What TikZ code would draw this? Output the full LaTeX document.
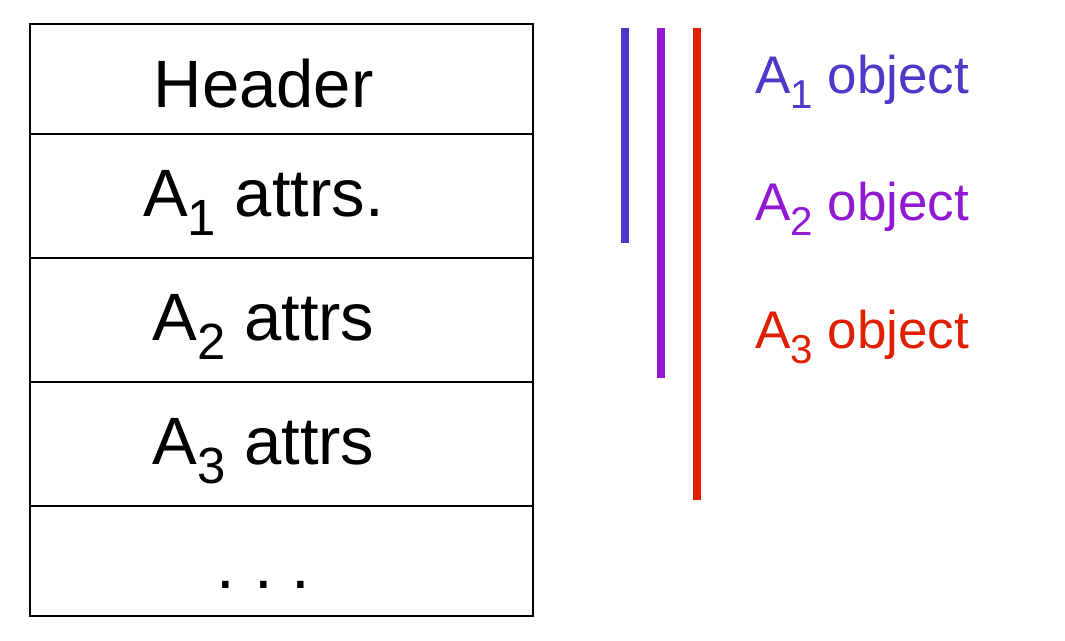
\documentclass[tikz,border=0pt]{standalone}
\usepackage{fontspec}
\setmainfont{Liberation Sans}
\usetikzlibrary{positioning}
\definecolor{objone}{RGB}{80,55,200}
\definecolor{objtwo}{RGB}{145,25,210}
\definecolor{objthree}{RGB}{224,30,0}
\newcommand{\lowidx}[1]{\raisebox{-0.29em}{\scalebox{0.76}{#1}}}
\begin{document}
\begin{tikzpicture}[x=1pt, y=-1pt,
  cell/.style={draw, line width=2pt, minimum width=503pt, inner sep=0pt, outer sep=0pt,
    text depth=0pt, font=\fontsize{67}{70}\selectfont, execute at end node={\hspace*{36pt}}},
  bar/.style={line width=8.5pt},
  objlabel/.style={anchor=base west, inner sep=0pt, font=\fontsize{53}{56}\selectfont}]
  \useasboundingbox (0,0) rectangle (1065,640);
  \node[cell, minimum height=110pt, text height=56pt] (hdr) at (281.5,79) {Header};
  \node[cell, minimum height=124pt, text height=40pt, below=0pt of hdr] (aone) {A\lowidx{1} attrs.};
  \node[cell, minimum height=124pt, text height=40pt, below=0pt of aone] (atwo) {A\lowidx{2} attrs};
  \node[cell, minimum height=124pt, text height=40pt, below=0pt of atwo] (athree) {A\lowidx{3} attrs};
  \node[cell, minimum height=110pt, text height=54pt, below=0pt of athree] (rest) {.\ .\ .};
  \draw[bar, objone] (625,28) -- (625,243);
  \draw[bar, objtwo] (661,28) -- (661,378);
  \draw[bar, objthree] (697,28) -- (697,500);
  \node[objlabel, objone] (lone) at (755,93) {A\lowidx{1} object};
  \node[objlabel, objtwo] (ltwo) at (755,220) {A\lowidx{2} object};
  \node[objlabel, objthree] (lthree) at (755,348) {A\lowidx{3} object};
\end{tikzpicture}
\end{document}
